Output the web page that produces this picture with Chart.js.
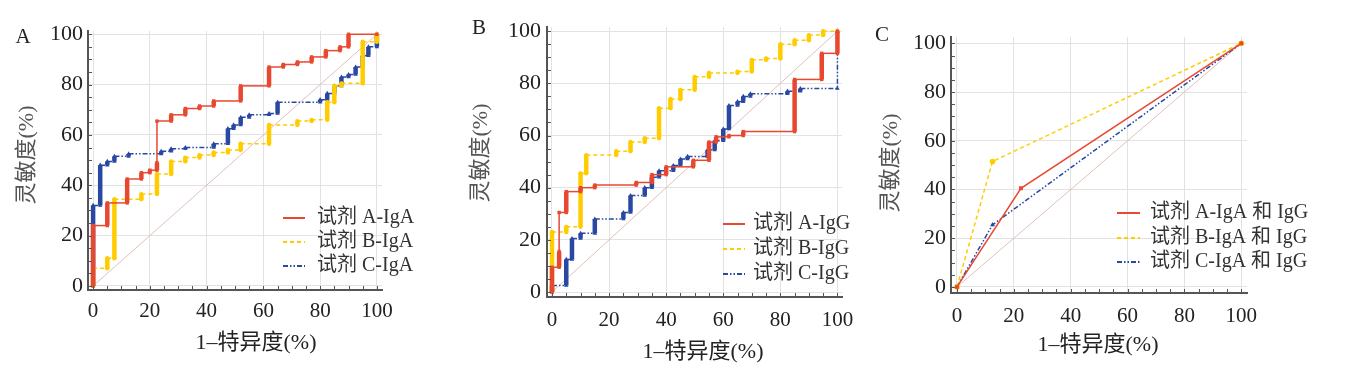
<!DOCTYPE html>
<html>
<head>
<meta charset="UTF-8">
<title>ROC</title>
<script src="https://cdn.jsdelivr.net/npm/chart.js@4.4.0/dist/chart.umd.min.js"></script>
<style>
  body { margin: 0; background: #fff; }
  canvas { position: absolute; top: 0; }
</style>
</head>
<body>
<canvas id="chartA" width="440" height="371" style="left:0px"></canvas>
<canvas id="chartB" width="420" height="371" style="left:460px"></canvas>
<canvas id="chartC" width="478" height="371" style="left:870px"></canvas>
<script>
const tickValues = [0, 20, 40, 60, 80, 100];

// A: IgA  [1-特异度, 灵敏度]
const aIgA = [[0,0],[0,24],[5,24],[5,33],[12,33],[12,42.5],[17,42.5],[17,45],[20,45],[20,46],[22.5,46],[22.5,49],[22.5,65.5],
  [27.5,65.5],[27.5,68],[32.5,68],[32.5,70.5],[37.5,70.5],[37.5,71.5],[42.5,71.5],[42.5,73.5],[52,73.5],[52,79.5],[62,79.5],
  [62,87],[67,87],[67,88],[72,88],[72,89],[77,89],[77,91],[82,91],[82,93.5],[87,93.5],[87,95],[90,95],[90,100],[100,100]];
const bIgA = [[0,0],[0,7],[5,7],[5,11],[7.5,11],[7.5,34.5],[17,34.5],[17,36.5],[22.5,36.5],[22.5,44.5],[27.5,44.5],[27.5,49.5],
  [32.5,49.5],[32.5,51],[37.5,51],[37.5,52],[42.5,52],[42.5,53],[47.5,53],[47.5,54],[52,54],[52,56.5],[62,56.5],[62,64],
  [72,64],[72,65.5],[77,65.5],[77,66],[82.5,66],[82.5,73],[85,73],[85,79.5],[87.5,79.5],[87.5,80.5],[95,80.5],[95,97],[100,97],[100,100]];
const cIgA = [[0,0],[0,32],[2.5,32],[2.5,48],[5,48],[5,49.5],[7.5,49.5],[7.5,51.5],[12.5,51.5],[12.5,52.5],[24,52.5],[24,53.5],
  [27.5,53.5],[27.5,54.5],[32.5,54.5],[32.5,55],[42.5,55],[42.5,56.5],[47.5,56.5],[47.5,62.5],[49.5,62.5],[49.5,64],[52,64],
  [52,67],[55,67],[55,68],[62,68],[62,68.5],[65,68.5],[65,73],[80,73],[80,74],[82.5,74],[82.5,76.5],[85,76.5],[85,79.5],
  [87.5,79.5],[87.5,83],[90,83],[90,84],[92.5,84],[92.5,87],[95,87],[95,91.5],[97,91.5],[97,95],[100,95],[100,100]];

// B: IgG
const aIgG = [[0,0],[0,9.5],[2.5,9.5],[2.5,15.5],[2.5,30.5],[5,30.5],[5,38.5],[10,38.5],[10,40],[15,40],[15,41],[29.5,41],
  [29.5,42],[35,42],[35,45],[40,45],[40,48],[49.5,48],[49.5,50.5],[55,50.5],[55,57.5],[57.5,57.5],[57.5,59.5],[62,59.5],
  [62,60],[67,60],[67,61.5],[85,61.5],[85,81.5],[94.5,81.5],[94.5,91.5],[100,91.5],[100,100]];
const bIgG = [[0,0],[0,23],[5,23],[5,25],[10,25],[10,45.5],[12,45.5],[12,52.5],[22.5,52.5],[22.5,54],[27.5,54],[27.5,57.5],
  [32.5,57.5],[32.5,59],[37.5,59],[37.5,70.5],[41.5,70.5],[41.5,74],[45,74],[45,77.5],[50,77.5],[50,82.5],[55,82.5],[55,84],
  [65,84],[65,84.5],[70,84.5],[70,89],[75,89],[75,89.5],[80,89.5],[80,95],[85,95],[85,96.5],[90,96.5],[90,98.5],[95,98.5],
  [95,100],[100,100]];
const cIgG = [[0,0],[0,2.5],[5,2.5],[5,12.5],[7,12.5],[7,20.5],[10,20.5],[10,22.5],[15,22.5],[15,28],[25,28],[25,30.5],
  [27.5,30.5],[27.5,37],[32.5,37],[32.5,40],[35,40],[35,44],[37.5,44],[37.5,46.5],[42.5,46.5],[42.5,48.5],[45,48.5],[45,51],
  [47.5,51],[47.5,52],[54.5,52],[54.5,54.5],[57,54.5],[57,58],[60,58],[60,62.5],[62,62.5],[62,71.5],[65,71.5],[65,73],
  [67,73],[67,75],[69.5,75],[69.5,76],[82.5,76],[82.5,77],[87,77],[87,78],[100,78],[100,100]];

// C: IgA 和 IgG
const aBoth = [[0,0],[22.5,40.5],[100,100]];
const bBoth = [[0,0],[12.5,51.5],[100,100]];
const cBoth = [[0,0],[12.5,25.5],[100,100]];

const namesA = ['试剂 A-IgA', '试剂 B-IgA', '试剂 C-IgA'];
const namesB = ['试剂 A-IgG', '试剂 B-IgG', '试剂 C-IgG'];
const namesC = ['试剂 A-IgA 和 IgG', '试剂 B-IgA 和 IgG', '试剂 C-IgA 和 IgG'];
const xTitle = '1–特异度(%)';
const yTitle = '灵敏度(%)';

const FONT = '"Liberation Serif", "Noto Sans CJK SC", serif';
const styles = [
  { color: 'rgb(232,72,48)', dash: [], point: 'rect', r: 2.4 },
  { color: 'rgb(255,204,0)', dash: [4, 3], point: 'circle', r: 2.2 },
  { color: 'rgb(40,72,162)', dash: [5, 2, 1.5, 2, 1.5, 2], point: 'triangle', r: 2.6 }
];

// single jumps drawn thin (no markers on the step)
const thinSteps = { '试剂 A-IgA': [[22.5, 49]], '试剂 A-IgG': [[2.5, 15.5]], '试剂 C-IgG': [[100, 78]] };

const decor = {
  id: 'decor',
  afterDatasetsDraw(chart) {
    const { ctx, scales: { x, y } } = chart;
    ctx.save();
    ctx.strokeStyle = '#555';
    ctx.lineWidth = 1;
    for (let v = 0; v <= 100; v += 5) {
      const px = Math.round(x.getPixelForValue(v)) + 0.5;
      const py = Math.round(y.getPixelForValue(v)) + 0.5;
      ctx.beginPath();
      ctx.moveTo(px, y.bottom); ctx.lineTo(px, y.bottom - 4);
      ctx.moveTo(x.left, py); ctx.lineTo(x.left + 4, py);
      ctx.stroke();
    }
    ctx.restore();
  },
  afterDraw(chart) {
    const o = chart.options.plugins.decor;
    const ctx = chart.ctx;
    ctx.save();
    ctx.textBaseline = 'middle';
    ctx.textAlign = 'center';
    ctx.fillStyle = '#222';
    ctx.font = '21px ' + FONT;
    ctx.fillText(o.label, o.lx, o.ly);
    // axis titles
    ctx.font = '22px ' + FONT;
    ctx.fillText(xTitle, o.xt[0], o.xt[1]);
    ctx.save();
    ctx.translate(o.yt[0], o.yt[1]);
    ctx.rotate(-Math.PI / 2);
    ctx.fillStyle = '#555';
    ctx.fillText(yTitle, 0, 0);
    ctx.restore();
    // legend
    ctx.textAlign = 'left';
    ctx.font = '20px ' + FONT;
    o.names.forEach((n, i) => {
      const s = styles[i], yy = o.ys[i];
      ctx.strokeStyle = s.color;
      ctx.lineWidth = 2;
      ctx.setLineDash(s.dash);
      ctx.beginPath();
      ctx.moveTo(o.x0, yy); ctx.lineTo(o.x1, yy);
      ctx.stroke();
      ctx.fillStyle = '#333';
      ctx.fillText(n, o.tx, yy);
    });
    ctx.restore();
  }
};

function makeChart(id, series, names, L) {
  const datasets = series.map((pts, i) => {
    const s = styles[i];
    const thin = thinSteps[names[i]] || [];
    const isThick = c => {
      const a = c.p0.parsed, b = c.p1.parsed;
      if (a.x !== b.x) return false;
      return !thin.some(t => t[0] === a.x && t[1] === a.y);
    };
    return {
      label: names[i],
      data: pts.map(p => ({ x: p[0], y: p[1] })),
      borderColor: s.color,
      backgroundColor: s.color,
      borderWidth: 1.5,
      borderDash: s.dash,
      pointStyle: s.point,
      pointRadius: L.pr || s.r,
      pointBorderWidth: 0,
      segment: {
        borderWidth: c => isThick(c) ? 4.5 : 1.5,
        borderDash: c => isThick(c) ? [] : s.dash
      },
      order: i + 1
    };
  });
  datasets.push({
    label: '',
    data: [{ x: 0, y: 0 }, { x: 100, y: 100 }],
    borderColor: 'rgb(226,192,186)',
    borderWidth: 1,
    pointRadius: 0,
    order: 10
  });

  const axis = (min, max, isX) => ({
    type: 'linear',
    min, max,
    afterBuildTicks: s => { s.ticks = tickValues.map(v => ({ value: v })); },
    afterFit: s => { if (isX) s.height = L.xHeight; else s.width = L.yWidth; },
    grid: { color: 'rgb(226,226,226)', lineWidth: 1, drawTicks: false },
    border: { color: '#555', width: 2 },
    ticks: {
      padding: isX ? L.xTickPad : L.yTickPad,
      color: '#222',
      font: { family: FONT, size: isX ? 21 : 22 },
      maxRotation: 0,
      autoSkip: false
    }
  });

  new Chart(document.getElementById(id), {
    type: 'line',
    data: { datasets },
    options: {
      responsive: false,
      animation: false,
      layout: { padding: { left: 0, top: L.padTop, right: L.padRight, bottom: 0 } },
      scales: {
        x: axis(L.xMin, L.xMax, true),
        y: axis(L.yMin, L.yMax, false)
      },
      plugins: {
        legend: { display: false },
        tooltip: { enabled: false },
        decor: Object.assign({ names }, L.decor)
      }
    },
    plugins: [decor]
  });
}

makeChart('chartA', [aIgA, bIgA, cIgA], namesA, {
  padTop: 31, padRight: 58, yWidth: 88, xHeight: 81,
  xTickPad: 9, yTickPad: 5,
  xMin: -1.8, xMax: 101.8, yMin: -1.6, yMax: 101.3,
  decor: { label: 'A', lx: 23, ly: 37, xt: [256, 343], yt: [27, 155],
    x0: 283, x1: 305, tx: 317, ys: [218, 242, 266] }
});
makeChart('chartB', [aIgG, bIgG, cIgG], namesB, {
  padTop: 27, padRight: 38, yWidth: 87, xHeight: 74,
  xTickPad: 11, yTickPad: 6,
  xMin: -1.75, xMax: 101.6, yMin: -1.9, yMax: 101.6,
  decor: { label: 'B', lx: 19, ly: 28, xt: [243, 352], yt: [21, 153],
    x0: 263, x1: 285, tx: 293, ys: [224, 249, 274] }
});
makeChart('chartC', [aBoth, bBoth, cBoth], namesC, {
  padTop: 37, padRight: 101, yWidth: 81, xHeight: 78, pr: 2.8,
  xTickPad: 11, yTickPad: 5,
  xMin: -2.1, xMax: 102, yMin: -2.5, yMax: 102.6,
  decor: { label: 'C', lx: 12, ly: 35, xt: [228, 345], yt: [21, 163],
    x0: 247, x1: 270, tx: 280, ys: [213, 238, 262] }
});
</script>
</body>
</html>
